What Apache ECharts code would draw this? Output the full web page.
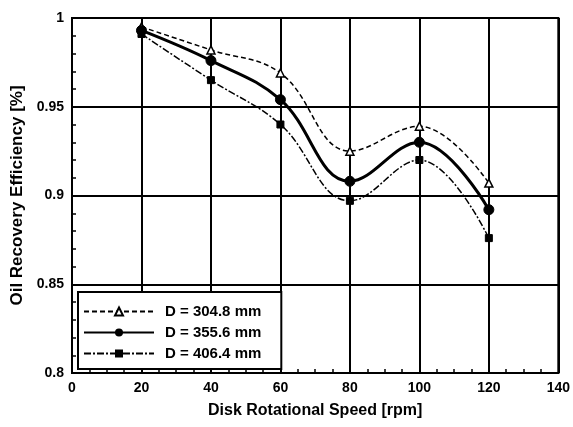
<!DOCTYPE html>
<html>
<head>
<meta charset="utf-8">
<script src="https://cdn.jsdelivr.net/npm/echarts@6/dist/echarts.min.js"></script>
<style>
  html, body { margin: 0; padding: 0; background: #fff; }
  #chart { width: 573px; height: 427px; }
</style>
</head>
<body>
<div id="chart"></div>
<script>
// disk rotational speed [rpm]
var speeds = [20, 40, 60, 80, 100, 120];
var seriesNames = ['D = 304.8 mm', 'D = 355.6 mm', 'D = 406.4 mm'];
// oil recovery efficiency
var eff304 = [0.995, 0.982, 0.969, 0.925, 0.939, 0.907];
var eff355 = [0.993, 0.976, 0.954, 0.908, 0.930, 0.892];
var eff406 = [0.991, 0.965, 0.940, 0.897, 0.920, 0.876];

var font = '"Liberation Sans Narrow", "Liberation Sans", Arial, sans-serif';

function pairs(ys) {
    return speeds.map(function (x, i) { return [x, ys[i]]; });
}

var chart = echarts.init(document.getElementById('chart'));
chart.setOption({
    animation: false,
    backgroundColor: '#fff',
    grid: {
        left: 72, right: 12, top: 18, bottom: 54,
        show: true, borderColor: '#000', borderWidth: 2
    },
    legend: {
        data: seriesNames,
        orient: 'vertical',
        left: 78, top: 292,
        backgroundColor: '#fff',
        borderColor: '#000',
        borderWidth: 2,
        padding: [12, 20, 8, 5],
        itemWidth: 70,
        itemHeight: 10,
        itemGap: 6,
        textStyle: { fontFamily: font, fontWeight: 'bold', fontSize: 15, color: '#000', padding: [0, 0, 0, 6] }
    },
    xAxis: {
        type: 'value',
        min: 0, max: 140, interval: 20,
        name: 'Disk Rotational Speed [rpm]',
        nameLocation: 'middle',
        nameGap: 30,
        nameTextStyle: { fontFamily: font, fontWeight: 'bold', fontSize: 16, color: '#000' },
        axisLine: { lineStyle: { color: '#000', width: 2 } },
        axisTick: { show: true, inside: true, length: 5, lineStyle: { color: '#000', width: 1.5 } },
        minorTick: { show: true, splitNumber: 4, length: 4, lineStyle: { color: '#000', width: 1.5 } },
        axisLabel: { fontFamily: font, fontWeight: 'bold', fontSize: 14, color: '#000', margin: 8 },
        splitLine: { show: true, lineStyle: { color: '#000', width: 2 } }
    },
    yAxis: {
        type: 'value',
        min: 0.8, max: 1, interval: 0.05,
        name: 'Oil Recovery Efficiency [%]',
        nameLocation: 'middle',
        nameGap: 42,
        nameTextStyle: { fontFamily: font, fontWeight: 'bold', fontSize: 17, color: '#000' },
        axisLine: { lineStyle: { color: '#000', width: 2 } },
        axisTick: { show: true, inside: true, length: 5, lineStyle: { color: '#000', width: 1.5 } },
        minorTick: { show: true, splitNumber: 5, length: 4, lineStyle: { color: '#000', width: 1.5 } },
        axisLabel: {
            fontFamily: font, fontWeight: 'bold', fontSize: 14, color: '#000', margin: 8,
            formatter: function (v) { return String(+v.toFixed(2)); }
        },
        splitLine: { show: true, lineStyle: { color: '#000', width: 2 } }
    },
    series: [
        {
            name: seriesNames[0],
            type: 'line',
            smooth: 0.4,
            data: pairs(eff304),
            symbol: 'triangle',
            symbolSize: 8,
            itemStyle: { color: '#fff', borderColor: '#000', borderWidth: 1.5 },
            lineStyle: { color: '#000', width: 1.5, type: [5, 3] },
            z: 3
        },
        {
            name: seriesNames[1],
            type: 'line',
            smooth: 0.4,
            data: pairs(eff355),
            symbol: 'circle',
            symbolSize: 10,
            itemStyle: { color: '#000', borderColor: '#000' },
            lineStyle: { color: '#000', width: 3 },
            z: 4
        },
        {
            name: seriesNames[2],
            type: 'line',
            smooth: 0.4,
            data: pairs(eff406),
            symbol: 'rect',
            symbolSize: 7,
            itemStyle: { color: '#000', borderColor: '#000' },
            lineStyle: { color: '#000', width: 1.5, type: [7, 2, 2, 2] },
            z: 3
        }
    ]
});
</script>
</body>
</html>
